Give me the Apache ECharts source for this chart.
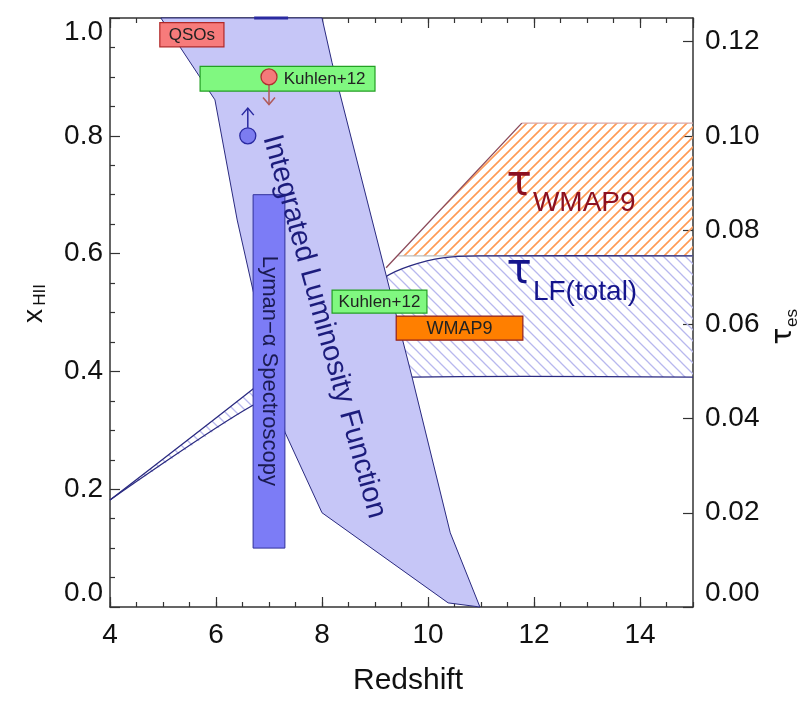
<!DOCTYPE html>
<html>
<head>
<meta charset="utf-8">
<script src="https://cdn.jsdelivr.net/npm/echarts@6/dist/echarts.min.js"></script>
<style>html,body{margin:0;padding:0;background:#fff}#chart{width:807px;height:706px}</style>
</head>
<body>
<div id="chart"></div>
<script>
// integrated luminosity function band (redshift, x_HII)
const lfZ = [4.96, 5.98, 6.40, 7.30, 8.00, 10.38, 10.98, 10.42, 9.70, 8.19, 8.00]
const lfX = [1.0, 0.861, 0.657, 0.297, 0.160, 0.007, 0.0, 0.126, 0.390, 0.924, 1.0]

// tau_es from the LF, lower and upper bound
const tauLoZ = [4.0, 6.68, 7.58, 8.53, 9.70, 15.0]
const tauLo = [0.0227, 0.0427, 0.0456, 0.0475, 0.0488, 0.0488]
const tauHiZ = [4.0, 6.68, 7.58, 8.53, 9.19, 9.66, 10.28, 10.98, 15.0]
const tauHi = [0.0227, 0.0461, 0.0545, 0.0641, 0.0700, 0.0724, 0.0741, 0.0745, 0.0745]

// WMAP9 tau band
const wmapZ = [9.44, 11.77, 15.0, 15.0]
const wmapTau = [0.0745, 0.1027, 0.1027, 0.0745]
const wmapEdgeZ = [9.21, 11.77]
const wmapEdgeTau = [0.0720, 0.1027]

// Lyman-alpha spectroscopy range
const lyaZ = [6.70, 7.30]
const lyaX = [0.10, 0.70]

// limits (circle + arrow)
const pointZ = [7.0, 6.6]
const pointX = [0.90, 0.80]
const limitX = [0.853, 0.847]

// label boxes
const boxNames = ['QSOs', 'Kuhlen+12', 'Kuhlen+12', 'WMAP9']
const boxZ0 = [4.94, 5.70, 8.19, 9.40]
const boxZ1 = [6.15, 9.00, 9.98, 11.79]
const boxX0 = [0.951, 0.876, 0.499, 0.453]
const boxX1 = [0.992, 0.918, 0.538, 0.494]

const FONT = '"Liberation Sans", Arial, Helvetica, sans-serif'
const GREEK = '"DejaVu Sans", sans-serif'
const AXIS = '#333'
const NAVY = '#2a2a80'

const hatch = function (color, dir, step, width) {
  const c = document.createElement('canvas')
  c.width = c.height = step
  const g = c.getContext('2d')
  g.strokeStyle = color
  g.lineWidth = width
  g.beginPath()
  if (dir > 0) {
    g.moveTo(-1, step + 1); g.lineTo(step + 1, -1)
    g.moveTo(-2, 2); g.lineTo(2, -2)
    g.moveTo(step - 2, step + 2); g.lineTo(step + 2, step - 2)
  } else {
    g.moveTo(-1, -1); g.lineTo(step + 1, step + 1)
    g.moveTo(step - 2, -2); g.lineTo(step + 2, 2)
    g.moveTo(-2, step - 2); g.lineTo(2, step + 2)
  }
  g.stroke()
  return {image: c, repeat: 'repeat'}
}

const pts = function (api, xs, ys) {
  return xs.map((x, i) => api.coord([x, ys[i]]))
}

const custom = function (yAxisIndex, z, render) {
  return {
    type: 'custom',
    xAxisIndex: 0,
    yAxisIndex: yAxisIndex,
    z: z,
    silent: true,
    data: [[4, 0]],
    renderItem: function (params, api) { return {type: 'group', children: render(api)} }
  }
}

const chart = echarts.init(document.getElementById('chart'))

const series = [
  // WMAP9 tau band
  custom(1, 2, function (api) {
    const poly = pts(api, wmapZ, wmapTau)
    return [
      {type: 'polygon', shape: {points: poly}, style: {fill: hatch('#ff9a55', 1, 10, 1.6), stroke: null}},
      {type: 'polyline', shape: {points: [poly[1], poly[2]]}, style: {stroke: '#d8a8a8', lineWidth: 1.2, fill: null}},
      {type: 'polyline', shape: {points: [poly[0], poly[3]]}, style: {stroke: '#bdbdbd', lineWidth: 1.2, fill: null}},
      {type: 'polyline', shape: {points: pts(api, wmapEdgeZ, wmapEdgeTau)}, style: {stroke: '#8a4858', lineWidth: 1.3, fill: null}}
    ]
  }),
  // LF tau band
  custom(1, 3, function (api) {
    const hi = pts(api, tauHiZ, tauHi)
    const lo = pts(api, tauLoZ, tauLo)
    return [
      {type: 'polygon', shape: {points: hi.concat(lo.slice().reverse())}, style: {fill: hatch('#b8b8ee', -1, 11, 1.3), stroke: null}},
      {type: 'polyline', shape: {points: hi, smooth: 0.3}, style: {stroke: NAVY, lineWidth: 1.3, fill: null}},
      {type: 'polyline', shape: {points: lo, smooth: 0.3}, style: {stroke: NAVY, lineWidth: 1.3, fill: null}}
    ]
  }),
  // integrated luminosity function band
  custom(0, 4, function (api) {
    return [
      {type: 'polygon', shape: {points: pts(api, lfZ, lfX)}, style: {fill: '#c6c6f7', stroke: NAVY, lineWidth: 1}},
      {type: 'polyline', shape: {points: pts(api, [6.72, 7.36], [1.0, 1.0])}, style: {stroke: '#2a2aa0', lineWidth: 3, fill: null}}
    ]
  }),
  // Lyman-alpha bar
  custom(0, 5, function (api) {
    const p0 = api.coord([lyaZ[0], lyaX[1]])
    const p1 = api.coord([lyaZ[1], lyaX[0]])
    const c = api.coord([(lyaZ[0] + lyaZ[1]) / 2, 0.401])
    return [
      {type: 'rect', shape: {x: p0[0], y: p0[1], width: p1[0] - p0[0], height: p1[1] - p0[1]}, style: {fill: '#7c7cf6', stroke: '#30309a', lineWidth: 1}},
      {type: 'text', x: c[0], y: c[1], rotation: -Math.PI / 2,
        style: {text: 'Lyman\u2212\u03b1 Spectroscopy', font: '22px ' + FONT, fill: '#1a1a50', align: 'center', verticalAlign: 'middle'}}
    ]
  }),
  // band label
  custom(0, 6, function (api) {
    const c = api.coord([8.04, 0.476])
    return [
      {type: 'text', x: c[0], y: c[1], rotation: -1.30,
        style: {text: 'Integrated Luminosity Function', font: '29px ' + FONT, fill: '#1c1c7c', align: 'center', verticalAlign: 'middle'}}
    ]
  }),
  // label boxes
  custom(0, 7, function (api) {
    const out = []
    boxNames.forEach((name, i) => {
      const p0 = api.coord([boxZ0[i], boxX1[i]])
      const p1 = api.coord([boxZ1[i], boxX0[i]])
      const fill = ['#f77b7b', '#80f880', '#80f880', '#ff7f00'][i]
      const stroke = ['#b02828', '#22a022', '#22a022', '#902020'][i]
      out.push({type: 'rect', shape: {x: p0[0], y: p0[1], width: p1[0] - p0[0], height: p1[1] - p0[1]}, style: {fill: fill, stroke: stroke, lineWidth: 1.2}})
      const tx = i === 1 ? api.coord([8.05, 0])[0] : (p0[0] + p1[0]) / 2
      out.push({type: 'text', x: tx, y: (p0[1] + p1[1]) / 2 + 1,
        style: {text: name, font: (i === 3 ? '18px ' : '17px ') + FONT, fill: '#222', align: 'center', verticalAlign: 'middle'}})
    })
    return out
  }),
  // limits with arrows
  custom(0, 8, function (api) {
    const out = []
    const fills = ['#f47a7a', '#7c7cf0']
    const strokes = ['#b03030', '#2828a0']
    const arrows = ['#b05a5a', '#2828a0']
    pointZ.forEach((z, i) => {
      const c = api.coord([z, pointX[i]])
      const t = api.coord([z, limitX[i]])
      const r = 8
      const dir = t[1] > c[1] ? 1 : -1
      out.push({type: 'line', shape: {x1: c[0], y1: c[1] + dir * r, x2: t[0], y2: t[1]}, style: {stroke: arrows[i], lineWidth: 1.5}})
      out.push({type: 'polyline', shape: {points: [[t[0] - 6, t[1] - dir * 7], [t[0], t[1]], [t[0] + 6, t[1] - dir * 7]]}, style: {stroke: arrows[i], lineWidth: 1.5, fill: null}})
      out.push({type: 'circle', shape: {cx: c[0], cy: c[1], r: r}, style: {fill: fills[i], stroke: strokes[i], lineWidth: 1.3}})
    })
    return out
  }),
  // tau labels
  custom(0, 9, function (api) {
    const a = api.coord([11.72, 0.718])
    const b = api.coord([11.98, 0.686])
    const c = api.coord([11.72, 0.569])
    const d = api.coord([11.98, 0.534])
    return [
      {type: 'text', x: a[0], y: a[1], style: {text: '\u03c4', font: '42px ' + GREEK, fill: '#8c1020', align: 'center', verticalAlign: 'middle'}},
      {type: 'text', x: b[0], y: b[1], style: {text: 'WMAP9', font: '28px ' + FONT, fill: '#8c1020', align: 'left', verticalAlign: 'middle'}},
      {type: 'text', x: c[0], y: c[1], style: {text: '\u03c4', font: '42px ' + GREEK, fill: '#15158c', align: 'center', verticalAlign: 'middle'}},
      {type: 'text', x: d[0], y: d[1], style: {text: 'LF(total)', font: '28px ' + FONT, fill: '#15158c', align: 'left', verticalAlign: 'middle'}}
    ]
  })
]

const majorX = function (pos) {
  return {
    type: 'value', position: pos, min: 4, max: 15, interval: 2,
    axisLine: {show: true, onZero: false, lineStyle: {color: AXIS, width: 1.5}},
    axisTick: {show: true, inside: true, length: 10, lineStyle: {color: AXIS, width: 1.2}},
    axisLabel: {show: pos === 'bottom', showMaxLabel: false, margin: 14, fontSize: 28, fontFamily: FONT, color: '#111'},
    splitLine: {show: false}
  }
}
const minorX = function (pos) {
  return {
    type: 'value', position: pos, min: 4, max: 15, interval: 0.5,
    axisLine: {show: false, onZero: false},
    axisTick: {show: true, inside: true, length: 5, lineStyle: {color: AXIS, width: 1.2}},
    axisLabel: {show: false},
    splitLine: {show: false}
  }
}

chart.setOption({
  animation: false,
  backgroundColor: '#fff',
  grid: {left: 110, right: 114, top: 18, bottom: 99, containLabel: false, outerBoundsMode: 'none'},
  xAxis: [majorX('bottom'), majorX('top'), minorX('bottom'), minorX('top')],
  yAxis: [
    {
      type: 'value', position: 'left', min: 0, max: 1, interval: 0.2,
      axisLine: {show: true, onZero: false, lineStyle: {color: AXIS, width: 1.5}},
      axisTick: {show: true, inside: true, length: 10, lineStyle: {color: AXIS, width: 1.2}},
      minorTick: {show: true, splitNumber: 4, length: 5, lineStyle: {color: AXIS, width: 1.2}},
      axisLabel: {margin: 7, fontSize: 28, fontFamily: FONT, color: '#111', formatter: v => v.toFixed(1),
        verticalAlignMinLabel: 'bottom', verticalAlignMaxLabel: 'top'},
      splitLine: {show: false}
    },
    {
      type: 'value', position: 'right', min: 0, max: 0.125, interval: 0.02,
      axisLine: {show: true, onZero: false, lineStyle: {color: AXIS, width: 1.5}},
      axisTick: {show: true, inside: true, length: 10, lineStyle: {color: AXIS, width: 1.2}},
      axisLabel: {margin: 12, fontSize: 28, fontFamily: FONT, color: '#111', formatter: v => v.toFixed(2),
        showMaxLabel: false, verticalAlignMinLabel: 'bottom'},
      splitLine: {show: false}
    }
  ],
  graphic: [
    {type: 'text', x: 408, y: 681, style: {text: 'Redshift', font: '30px ' + FONT, fill: '#111', align: 'center', verticalAlign: 'middle'}},
    {type: 'text', x: 34, y: 316, rotation: Math.PI / 2, style: {text: 'x', font: '28px ' + FONT, fill: '#111', align: 'center', verticalAlign: 'middle'}},
    {type: 'text', x: 40, y: 295, rotation: Math.PI / 2, style: {text: 'HII', font: '17px ' + FONT, fill: '#111', align: 'center', verticalAlign: 'middle'}},
    {type: 'text', x: 784, y: 336, rotation: Math.PI / 2, style: {text: '\u03c4', font: '28px ' + GREEK, fill: '#111', align: 'center', verticalAlign: 'middle'}},
    {type: 'text', x: 792, y: 318, rotation: Math.PI / 2, style: {text: 'es', font: '17px ' + FONT, fill: '#111', align: 'center', verticalAlign: 'middle'}}
  ],
  series: series
})
</script>
</body>
</html>
